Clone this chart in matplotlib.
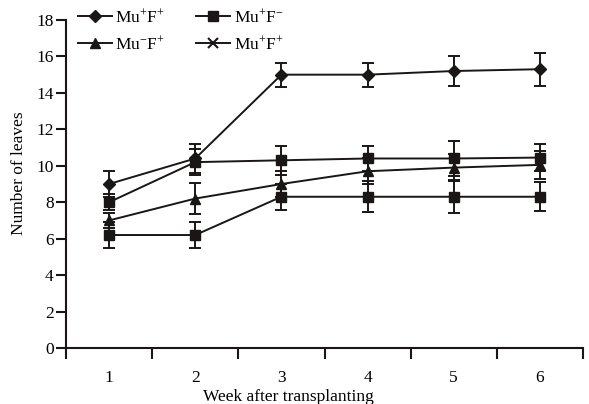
import matplotlib
matplotlib.use("Agg")
import matplotlib.pyplot as plt
from matplotlib.lines import Line2D

plt.rcParams["font.family"] = ["Liberation Serif", "DejaVu Serif"]
plt.rcParams["mathtext.fontset"] = "custom"
plt.rcParams["mathtext.rm"] = "Liberation Serif"
plt.rcParams["mathtext.it"] = "Liberation Serif:italic"

weeks = [1, 2, 3, 4, 5, 6]

mu_p_f_p = [9.0, 10.4, 15.0, 15.0, 15.2, 15.3]
mu_p_f_p_err = [0.7, 0.8, 0.65, 0.65, 0.8, 0.9]

mu_p_f_m = [8.0, 10.2, 10.3, 10.4, 10.4, 10.45]
mu_p_f_m_err = [0.45, 0.7, 0.8, 0.7, 0.95, 0.75]

mu_m_f_p = [7.0, 8.2, 9.0, 9.7, 9.9, 10.05]
mu_m_f_p_err = [0.4, 0.85, 0.7, 0.7, 0.75, 0.75]

mu_p_f_p2 = [6.2, 6.2, 8.3, 8.3, 8.3, 8.3]
mu_p_f_p2_err = [0.7, 0.7, 0.7, 0.85, 0.9, 0.8]

labels = [r"Mu$^{+}$F$^{+}$", r"Mu$^{+}$F$^{-}$", r"Mu$^{-}$F$^{+}$", r"Mu$^{+}$F$^{+}$"]
series = [
    (mu_p_f_p, mu_p_f_p_err, "D", 6),
    (mu_p_f_m, mu_p_f_m_err, "s", 7.5),
    (mu_m_f_p, mu_m_f_p_err, "^", 7),
    (mu_p_f_p2, mu_p_f_p2_err, "s", 7.5),
]

FS = 12.5
fig = plt.figure(figsize=(5.89, 4.04), dpi=100)
ax = fig.add_axes([66 / 589, 1 - 348 / 404, (583 - 66) / 589, (348 - 20) / 404])

col = "#1a1616"
for vals, errs, mk, ms in series:
    ax.errorbar(weeks, vals, yerr=errs, color=col, marker=mk, markersize=ms,
                linewidth=1.4, elinewidth=1.4, capsize=4, capthick=1.4,
                clip_on=False, zorder=3)

ax.set_xlim(0.5, 6.5)
ax.set_ylim(0, 18)
ax.set_yticks(range(0, 19, 2))
ax.set_xticks([0.5, 1.5, 2.5, 3.5, 4.5, 5.5, 6.5])
ax.set_xticklabels([])
ax.set_xticks(weeks, minor=True)
ax.set_xticklabels([str(w) for w in weeks], minor=True)
ax.tick_params(axis="x", which="minor", length=0, pad=16, labelsize=FS)
ax.tick_params(axis="x", which="major", direction="out", length=8, width=1.5, color=col)
ax.tick_params(axis="y", direction="out", length=7, width=1.5, color=col, labelsize=FS, pad=2)

for side in ("top", "right"):
    ax.spines[side].set_visible(False)
for side in ("left", "bottom"):
    ax.spines[side].set_linewidth(1.5)
    ax.spines[side].set_color(col)

ax.set_xlabel("Week after transplanting", fontsize=FS)
ax.xaxis.set_label_coords((288 - 66) / 517, (348 - 389) / 328)
ax.set_ylabel("Number of leaves", fontsize=FS)
ax.yaxis.set_label_coords((27 - 66) / 517, (348 - 173) / 328)

handles = [
    Line2D([], [], color=col, marker="D", markersize=6, linewidth=1.4),
    Line2D([], [], color=col, marker="s", markersize=7, linewidth=1.4),
    Line2D([], [], color=col, marker="^", markersize=7, linewidth=1.4),
    Line2D([], [], color=col, marker="x", markersize=7, markeredgewidth=1.5, linewidth=1.4),
]
order = [0, 2, 1, 3]
leg = fig.legend([handles[i] for i in order], [labels[i] for i in order],
                 ncol=2, loc="upper left", bbox_to_anchor=(78 / 589, 1 - 8 / 404),
                 frameon=False, fontsize=FS, handlelength=1.95, handletextpad=0.2,
                 columnspacing=1.8, labelspacing=0.55, borderaxespad=0, borderpad=0)

fig.savefig("out.png", dpi=100)
